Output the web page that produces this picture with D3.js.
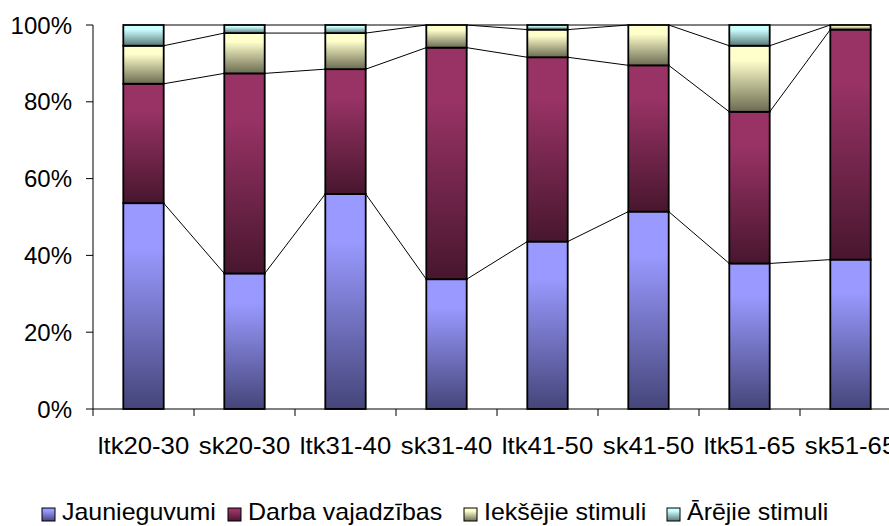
<!DOCTYPE html>
<html>
<head>
<meta charset="utf-8">
<script src="https://cdn.jsdelivr.net/npm/d3@7"></script>
<style>
  html, body { margin: 0; padding: 0; background: #fff; }
  svg { display: block; }
  text { font-family: Arial, "Liberation Sans", sans-serif; fill: #000; }
</style>
</head>
<body>
<svg id="chart" width="889" height="526"></svg>
<script>
// Age groups by school type
const categories = ["ltk20-30", "sk20-30", "ltk31-40", "sk31-40", "ltk41-50", "sk41-50", "ltk51-65", "sk51-65"];

// Share of each motivation type, percent
const seriesNames = ["Jaunieguvumi", "Darba vajadzības", "Iekšējie stimuli", "Ārējie stimuli"];
const jaunieguvumi    = [53.6, 35.3, 56.0, 33.8, 43.6, 51.4, 37.9, 38.9];
const darbaVajadzibas = [31.1, 52.1, 32.5, 60.3, 48.0, 38.1, 39.5, 59.9];
const ieksejieStimuli = [ 9.9, 10.5,  9.4,  5.9,  7.2, 10.5, 17.2,  1.2];
const arejieStimuli   = [ 5.4,  2.1,  2.1,  0.0,  1.2,  0.0,  5.4,  0.0];

const yTicks = [0, 20, 40, 60, 80, 100];

// light top colour / dark bottom colour for each series
const gradientStops = [
  ["#9999ff", "#45457a"],
  ["#993366", "#48162e"],
  ["#ffffcc", "#6b6b52"],
  ["#ccffff", "#587676"]
];

const svg = d3.select("#chart");

const x = d3.scaleBand()
  .domain(categories)
  .range([93, 93 + 101 * categories.length])
  .paddingInner(0.6)
  .paddingOuter(0.3);

const y = d3.scaleLinear().domain([0, 100]).range([409, 25]);

// gradients
const defs = svg.append("defs");
gradientStops.forEach((c, i) => {
  const g = defs.append("linearGradient")
    .attr("id", "grad" + i)
    .attr("x1", 0).attr("y1", 0).attr("x2", 0).attr("y2", 1);
  g.append("stop").attr("offset", "0%").attr("stop-color", c[0]);
  g.append("stop").attr("offset", "22%").attr("stop-color", c[0]);
  g.append("stop").attr("offset", "100%").attr("stop-color", c[1]);
});

// stacked data
const rows = categories.map((cat, i) => ({
  cat,
  [seriesNames[0]]: jaunieguvumi[i],
  [seriesNames[1]]: darbaVajadzibas[i],
  [seriesNames[2]]: ieksejieStimuli[i],
  [seriesNames[3]]: arejieStimuli[i]
}));
const stacked = d3.stack().keys(seriesNames)(rows);

// series lines between neighbouring bars
const linesG = svg.append("g");
stacked.forEach(layer => {
  for (let i = 0; i < categories.length - 1; i++) {
    linesG.append("line")
      .attr("x1", x(categories[i]) + x.bandwidth())
      .attr("y1", y(layer[i][1]))
      .attr("x2", x(categories[i + 1]))
      .attr("y2", y(layer[i + 1][1]))
      .attr("stroke", "#000")
      .attr("stroke-width", 1);
  }
});

// bars
stacked.forEach((layer, si) => {
  svg.append("g").selectAll("rect")
    .data(layer.filter(d => d[1] - d[0] > 0))
    .join("rect")
    .attr("x", d => x(d.data.cat))
    .attr("y", d => y(d[1]))
    .attr("width", x.bandwidth())
    .attr("height", d => y(d[0]) - y(d[1]))
    .attr("fill", `url(#grad${si})`)
    .attr("stroke", "#000")
    .attr("stroke-width", 1.8);
});

// y axis
const yAxis = svg.append("g");
yAxis.append("line")
  .attr("x1", 93).attr("x2", 93).attr("y1", y(0)).attr("y2", y(100))
  .attr("stroke", "#000");
yTicks.forEach(t => {
  yAxis.append("line")
    .attr("x1", 86).attr("x2", 93).attr("y1", y(t)).attr("y2", y(t))
    .attr("stroke", "#000");
  yAxis.append("text")
    .attr("transform", `translate(72,${y(t) + 8.5})`)
    .attr("text-anchor", "end")
    .attr("font-size", 24)
    .text(t + "%");
});

// x axis
const xAxis = svg.append("g");
xAxis.append("line")
  .attr("x1", 93).attr("x2", 889).attr("y1", y(0)).attr("y2", y(0))
  .attr("stroke", "#000");
const step = x.step();
d3.range(categories.length + 1).forEach(i => {
  const xp = 93 + i * step;
  xAxis.append("line")
    .attr("x1", xp).attr("x2", xp).attr("y1", y(0)).attr("y2", y(0) + 7)
    .attr("stroke", "#000");
});
categories.forEach(c => {
  xAxis.append("text")
    .attr("transform", `translate(${x(c) + x.bandwidth() / 2},454) scale(1.07,1)`)
    .attr("text-anchor", "middle")
    .attr("font-size", 24)
    .text(c);
});

// legend
const legendTextX = [62, 248, 484, 687];
const legend = svg.append("g");
seriesNames.forEach((name, i) => {
  legend.append("rect")
    .attr("x", legendTextX[i] - 20).attr("y", 508)
    .attr("width", 13).attr("height", 13)
    .attr("fill", `url(#grad${i})`)
    .attr("stroke", "#000")
    .attr("stroke-width", 1);
  legend.append("text")
    .attr("transform", `translate(${legendTextX[i]},520) scale(1.04,1)`)
    .attr("font-size", 24)
    .text(name);
});
</script>
</body>
</html>
